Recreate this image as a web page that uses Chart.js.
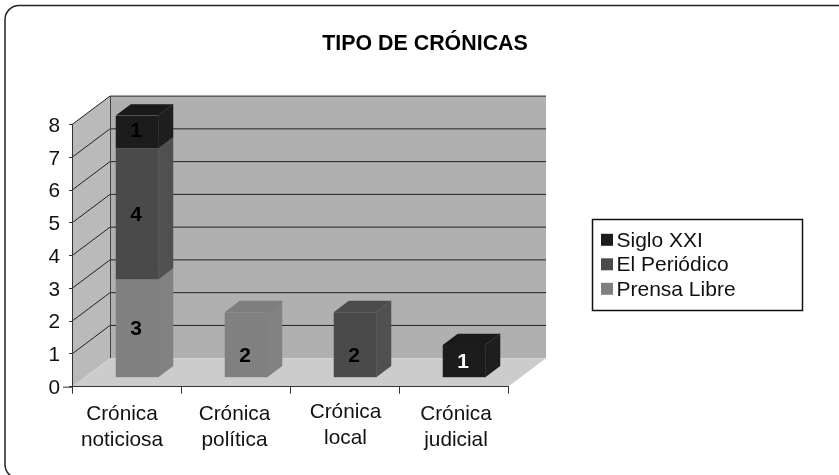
<!DOCTYPE html>
<html>
<head>
<meta charset="utf-8">
<title>Tipo de crónicas</title>
<script src="https://cdn.jsdelivr.net/npm/chart.js@4"></script>
<style>
  html, body { margin: 0; padding: 0; background: #fff; overflow: hidden; }
  canvas { display: block; }
</style>
</head>
<body>
<canvas id="myChart" width="839" height="475"></canvas>
<script>
var categories = [['Crónica', 'noticiosa'], ['Crónica', 'política'], ['Crónica', 'local'], ['Crónica', 'judicial']];
var prensaLibre = [3, 2, 0, 0];
var elPeriodico = [4, 0, 2, 0];
var sigloXXI = [1, 0, 0, 1];
var yMax = 8;

var fontName = '"Liberation Sans", Arial, sans-serif';
var colPrensa = '#808080', colPeriodico = '#4a4a4a', colSiglo = '#1c1c1c';

// depth of the room and of the columns (the fake 3D)
var wallDx = 38, wallDy = 28.5;
var barDx = 15, barDy = 11.3;
var barShiftX = 10.5, barShiftY = 9;

var box3d = {
    id: 'box3d',
    beforeDraw: function (chart) {
        var c = chart.ctx, y = chart.scales.y, a = chart.chartArea;
        var x0 = a.left, x1 = a.right, y0 = y.getPixelForValue(0), yT = y.getPixelForValue(yMax);

        // outer frame, runs off the picture at right and bottom
        c.save();
        c.strokeStyle = '#222';
        c.lineWidth = 1.5;
        c.beginPath();
        c.roundRect(5, 5.5, 900, 473, 14);
        c.stroke();

        // walls and floor
        c.fillStyle = '#b0b0b0';
        c.fillRect(x0 + wallDx, yT - wallDy, x1 - x0, y0 - yT);
        c.fillStyle = '#bababa';
        poly(c, [[x0, y0], [x0 + wallDx, y0 - wallDy], [x0 + wallDx, yT - wallDy], [x0, yT]]);
        c.fillStyle = '#cccccc';
        poly(c, [[x0, y0], [x1, y0], [x1 + wallDx, y0 - wallDy], [x0 + wallDx, y0 - wallDy]]);

        // grid lines go over the left wall and along the back wall
        c.strokeStyle = '#222';
        c.lineWidth = 1;
        y.ticks.forEach(function (t) {
            if (t.value === 0) return;
            var py = y.getPixelForValue(t.value);
            c.beginPath();
            c.moveTo(x0, py);
            c.lineTo(x0 + wallDx, py - wallDy);
            c.lineTo(x1 + wallDx, py - wallDy);
            c.stroke();
        });
        c.strokeStyle = '#444';
        c.beginPath();
        c.moveTo(x0 + wallDx + 0.5, yT - wallDy);
        c.lineTo(x0 + wallDx + 0.5, y0 - wallDy);
        c.stroke();
        c.restore();
    },
    beforeDatasetsDraw: function (chart) {
        var c = chart.ctx;
        c.save();
        // the long tick at zero
        c.strokeStyle = '#333';
        c.beginPath();
        c.moveTo(chart.chartArea.left - 9, chart.scales.y.getPixelForValue(0) + 0.5);
        c.lineTo(chart.chartArea.left, chart.scales.y.getPixelForValue(0) + 0.5);
        c.stroke();

        // side and top of each column, the library draws the front on top of this
        c.translate(barShiftX, -barShiftY);
        chart.data.datasets.forEach(function (ds, i) {
            chart.getDatasetMeta(i).data.forEach(function (bar, j) {
                if (!ds.data[j]) return;
                var p = bar.getProps(['x', 'y', 'base', 'width']);
                var l = p.x - p.width / 2, r = p.x + p.width / 2;
                c.fillStyle = ds.sideColor;
                poly(c, [[r, p.base], [r + barDx, p.base - barDy], [r + barDx, p.y - barDy], [r, p.y]]);
                c.fillStyle = ds.topColor;
                poly(c, [[l, p.y], [r, p.y], [r + barDx, p.y - barDy], [l + barDx, p.y - barDy]]);
                c.strokeStyle = ds.edgeColor;
                c.lineWidth = 1;
                c.beginPath();
                c.moveTo(r, p.base);
                c.lineTo(r, p.y);
                c.lineTo(r + barDx, p.y - barDy);
                c.stroke();
            });
        });
        c.restore();

        // fronts are moved back into the room as well
        c.save();
        c.translate(barShiftX, -barShiftY);
    },
    afterDatasetsDraw: function (chart) {
        var c = chart.ctx;
        c.restore();

        // value labels, not all of them are centred in the original
        var nudge = { '0,1': 11, '1,2': 11, '2,0': -2 };
        c.save();
        c.font = 'bold 21px ' + fontName;
        c.textAlign = 'center';
        c.textBaseline = 'middle';
        chart.data.datasets.forEach(function (ds, i) {
            chart.getDatasetMeta(i).data.forEach(function (bar, j) {
                if (!ds.data[j]) return;
                c.fillStyle = (i === 2 && j === 3) ? '#fff' : '#000';
                c.fillText(ds.data[j], bar.x + barShiftX - 1, (bar.y + bar.base) / 2 - barShiftY + (nudge[i + ',' + j] || 0) + 1);
            });
        });
        c.restore();
    },
    afterDraw: function (chart) {
        // legend box, last series first
        var c = chart.ctx;
        var rows = chart.data.datasets.slice().reverse();
        c.save();
        c.strokeStyle = '#111';
        c.lineWidth = 1.5;
        c.strokeRect(592.5, 219.5, 210, 91);
        c.font = '21px ' + fontName;
        c.textBaseline = 'middle';
        rows.forEach(function (ds, i) {
            var cy = 239.8 + i * 24.5;
            c.fillStyle = ds.backgroundColor;
            c.fillRect(601, cy - 6, 12, 12);
            c.fillStyle = '#111';
            c.fillText(ds.label, 616.5, cy + 1);
        });
        c.restore();
    },
    afterLayout: function (chart) {
        // title sits right of the chart area centre
        chart.titleBlock.left += 171;
        chart.titleBlock.right += 171;

        // category labels are not quite centred under their ticks in the original
        var dx = [-4.5, -1, 1, 2.5], dy = [0, 0, -2, 0];
        chart.scales.x.getLabelItems().forEach(function (item, i) {
            item.options.translation[0] += dx[i];
            item.options.translation[1] += dy[i];
        });
    }
};

function poly(c, pts) {
    c.beginPath();
    pts.forEach(function (p, i) {
        if (i === 0) c.moveTo(p[0], p[1]); else c.lineTo(p[0], p[1]);
    });
    c.closePath();
    c.fill();
}

var ctx = document.getElementById('myChart').getContext('2d');
var chart = new Chart(ctx, {
    type: 'bar',
    plugins: [box3d],
    data: {
        labels: categories,
        datasets: [
            { label: 'Prensa Libre', data: prensaLibre, backgroundColor: colPrensa, sideColor: '#828282', topColor: '#7e7e7e', edgeColor: '#7c7c7c' },
            { label: 'El Periódico', data: elPeriodico, backgroundColor: colPeriodico, sideColor: '#505050', topColor: '#4c4c4c', edgeColor: '#5c5c5c' },
            { label: 'Siglo XXI', data: sigloXXI, backgroundColor: colSiglo, sideColor: '#1e1e1e', topColor: '#1a1a1a', edgeColor: '#333333' }
        ]
    },
    options: {
        responsive: false,
        animation: false,
        layout: { padding: { left: 0, right: 331, top: 31.4, bottom: 0 } },
        datasets: { bar: { barPercentage: 0.39, categoryPercentage: 1, borderWidth: 0 } },
        plugins: {
            legend: { display: false },
            tooltip: { enabled: false },
            title: {
                display: true,
                text: 'TIPO DE CRÓNICAS',
                color: '#000',
                font: { family: fontName, size: 21.4, weight: 'bold', lineHeight: 1.2 },
                padding: { top: 0, bottom: 67.5 }
            }
        },
        scales: {
            x: {
                stacked: true,
                afterFit: function (s) { s.height = 88.3; },
                border: { color: '#333' },
                grid: { drawOnChartArea: false, tickLength: 7, tickColor: '#333' },
                ticks: {
                    color: '#111',
                    maxRotation: 0,
                    autoSkip: false,
                    padding: 7.5,
                    font: { family: fontName, size: 20.8, lineHeight: 1.24 }
                }
            },
            y: {
                stacked: true,
                min: 0,
                max: yMax,
                afterFit: function (s) { s.width = 72; },
                border: { color: '#333' },
                grid: { drawOnChartArea: false, tickLength: 3, tickColor: '#333' },
                ticks: {
                    stepSize: 1,
                    color: '#111',
                    padding: 9,
                    labelOffset: 1.5,
                    font: { family: fontName, size: 20.8 }
                }
            }
        }
    }
});
</script>
</body>
</html>
